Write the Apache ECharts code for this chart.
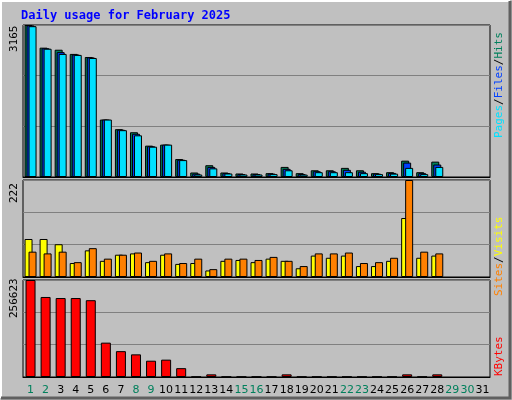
<!DOCTYPE html>
<html><head><meta charset="utf-8">
<script src="https://cdn.jsdelivr.net/npm/echarts@6/dist/echarts.min.js"></script>
<style>html,body{margin:0;padding:0;background:#fff}#main{width:512px;height:400px}</style>
</head><body><div id="main"></div>
<script>
// data
var days = ['1','2','3','4','5','6','7','8','9','10','11','12','13','14','15','16','17','18','19','20','21','22','23','24','25','26','27','28','29','30','31'];
var weekend = ['1','2','8','9','15','16','22','23','29','30'];
var hits   = [3165,2693,2650,2563,2499,1196,996,932,653,674,374,94,245,94,73,73,80,210,80,140,140,190,140,80,100,340,100,320];
var files  = [3155,2680,2600,2550,2490,1196,985,900,640,674,360,70,210,80,60,60,70,170,60,120,120,150,110,70,85,300,80,260];
var pages  = [3140,2671,2563,2542,2478,1196,975,868,631,674,352,52,180,73,52,52,60,140,50,100,100,100,80,60,70,190,60,210];
var visits = [87,87,75,32,61,37,51,54,34,51,30,32,15,37,39,34,42,37,20,49,44,49,25,25,37,135,44,49];
var sites  = [58,54,58,34,66,42,51,56,37,54,32,42,18,42,42,39,46,37,25,54,54,56,32,34,44,222,58,54];
var kbytes = [256623,211700,208900,208900,203200,90900,68400,59900,43100,45900,23400,800,7000,800,800,800,800,7000,800,800,800,800,800,800,800,7000,800,7000];

var maxHits = 3165, maxSites = 222, maxKb = 256623;
var myChart = echarts.init(document.getElementById('main'));
var font = 'DejaVu Sans Mono';
var up = Math.PI / 2;

function yax(idx, max) {
    return {
        gridIndex: idx, min: 0, max: max, interval: max / 3,
        axisLine: {show: false}, axisTick: {show: false}, axisLabel: {show: false},
        splitLine: {lineStyle: {color: '#808080', width: 1}}
    };
}
function xax(idx, showLabels) {
    return {
        type: 'category', gridIndex: idx, data: days,
        axisLine: {lineStyle: {color: '#000'}}, axisTick: {show: false},
        axisLabel: {
            show: showLabels, interval: 0, margin: 8, fontFamily: 'DejaVu Sans', fontSize: 11,
            formatter: function (v) { return weekend.indexOf(v) >= 0 ? '{w|' + v + '}' : v; },
            color: '#000', rich: {w: {color: '#00805c', fontFamily: 'DejaVu Sans', fontSize: 11}}
        }
    };
}
function bar(name, data, color, x, y, gap, w) {
    return {
        name: name, type: 'bar', data: data, xAxisIndex: x, yAxisIndex: y,
        barWidth: w, barGap: gap, animation: false,
        itemStyle: {color: color, borderColor: '#000', borderWidth: 1}
    };
}
function vtext(x, y, text, rich, fill) {
    return {type: 'text', x: x, y: y, rotation: up,
        style: {text: text, fill: fill || '#000', fontFamily: font, fontSize: 11,
                align: 'left', verticalAlign: 'middle', rich: rich || {}}};
}
function r(c) { return {fill: c, fontFamily: font, fontSize: 11}; }

option = {
    backgroundColor: '#c0c0c0',
    textStyle: {fontFamily: font},
    title: {
        text: 'Daily usage for February 2025', left: 16, top: 5,
        textStyle: {color: '#0000ff', fontFamily: font, fontSize: 12, fontWeight: 'bold'}
    },
    grid: [
        {left: 23, right: 22, top: 25, height: 152, show: true, borderColor: '#000', backgroundColor: '#c0c0c0'},
        {left: 23, right: 22, top: 180, height: 97, show: true, borderColor: '#000', backgroundColor: '#c0c0c0'},
        {left: 23, right: 22, top: 280, height: 97, show: true, borderColor: '#000', backgroundColor: '#c0c0c0'}
    ],
    xAxis: [xax(0, false), xax(1, false), xax(2, true)],
    yAxis: [yax(0, maxHits), yax(1, maxSites), yax(2, maxKb)],
    series: [
        bar('Hits', hits, '#00805c', 0, 0, '-75%', 8),
        bar('Files', files, '#0040ff', 0, 0, '-75%', 8),
        bar('Pages', pages, '#00e0ff', 0, 0, '-75%', 8),
        bar('Visits', visits, '#ffff00', 1, 1, '-50%', 8),
        bar('Sites', sites, '#ff8000', 1, 1, '-50%', 8),
        bar('KBytes', kbytes, '#ff0000', 2, 2, '0%', 10)
    ],
    graphic: [
        {type: 'polyline', shape: {points: [[1, 398], [1, 1], [510, 1]]}, style: {stroke: '#ffffff', lineWidth: 2, fill: 'none'}, silent: true},
        {type: 'polyline', shape: {points: [[1, 398], [510, 398], [510, 1]]}, style: {stroke: '#606060', lineWidth: 3, fill: 'none'}, silent: true},
        vtext(14, 52, String(maxHits)),
        vtext(14, 203, String(maxSites)),
        vtext(14, 318, String(maxKb)),
        vtext(499, 138, '{p|Pages}{s|/}{f|Files}{s|/}{h|Hits}',
              {p: r('#00e0ff'), s: r('#000'), f: r('#0040ff'), h: r('#00805c')}),
        vtext(499, 296, '{a|Sites}{s|/}{b|Visits}', {a: r('#ff8000'), s: r('#000'), b: r('#ffff00')}),
        vtext(499, 376, 'KBytes', null, '#ff0000')
    ]
};

myChart.setOption(option);
</script></body></html>
